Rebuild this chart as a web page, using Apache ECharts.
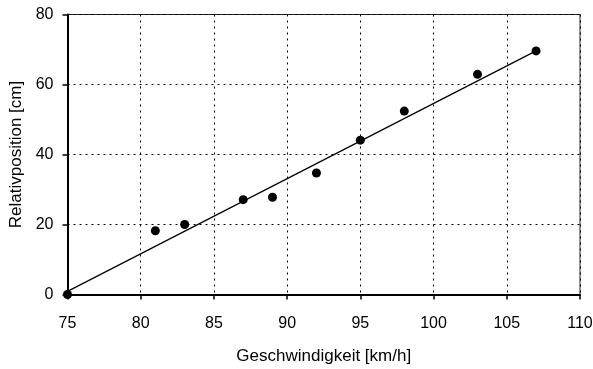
<!DOCTYPE html>
<html><head><meta charset="utf-8">
<script src="https://cdn.jsdelivr.net/npm/echarts@6/dist/echarts.min.js"></script>
<style>html,body{margin:0;padding:0;background:#fff}#c{width:593px;height:369px}</style>
</head><body><div id="c"></div>
<script>
var speed = [75, 81, 83, 87, 89, 92, 95, 98, 103, 107];
var position = [0, 18.2, 20, 27.1, 27.8, 34.7, 44.1, 52.4, 62.9, 69.6];
var fitX = [75, 107];
var fitY = [0.9, 69.6];
var xTitle = 'Geschwindigkeit [km/h]';
var yTitle = 'Relativposition [cm]';

var FONT = '"Liberation Sans", Arial, Helvetica, sans-serif';
var chart = echarts.init(document.getElementById('c'));
chart.setOption({
  animation: false,
  textStyle: {fontFamily: FONT},
  grid: {left: 67.5, right: 13, top: 14.5, bottom: 74.5, containLabel: false, outerBoundsMode: 'none',
         show: true, borderColor: '#222', borderWidth: 1},
  xAxis: {
    type: 'value', min: 75, max: 110, interval: 5,
    name: xTitle, nameLocation: 'middle', nameGap: 53,
    nameTextStyle: {fontSize: 17, color: '#000', fontFamily: FONT},
    axisLine: {lineStyle: {color: '#000', width: 2}},
    axisTick: {show: true, length: 5, lineStyle: {color: '#000', width: 1.5}},
    axisLabel: {fontSize: 16, color: '#000', margin: 21, fontFamily: FONT},
    splitLine: {show: true, lineStyle: {color: '#000', type: [2, 4], width: 1}}
  },
  yAxis: {
    type: 'value', min: 0, max: 80, interval: 20,
    name: yTitle, nameLocation: 'middle', nameGap: 37,
    nameTextStyle: {fontSize: 17, color: '#000', fontFamily: FONT},
    axisLine: {lineStyle: {color: '#000', width: 2}},
    axisTick: {show: true, length: 5, lineStyle: {color: '#000', width: 1.5}},
    axisLabel: {fontSize: 16, color: '#000', margin: 14, fontFamily: FONT},
    splitLine: {show: true, lineStyle: {color: '#000', type: [2, 4], width: 1}}
  },
  series: [
    {
      type: 'line', data: fitX.map(function (x, i) { return [x, fitY[i]]; }),
      symbol: 'none', lineStyle: {color: '#000', width: 1.2}, z: 3
    },
    {
      type: 'scatter', data: speed.map(function (x, i) { return [x, position[i]]; }),
      symbol: 'circle', symbolSize: 9, itemStyle: {color: '#000', opacity: 1}, z: 4
    }
  ]
});
</script></body></html>
